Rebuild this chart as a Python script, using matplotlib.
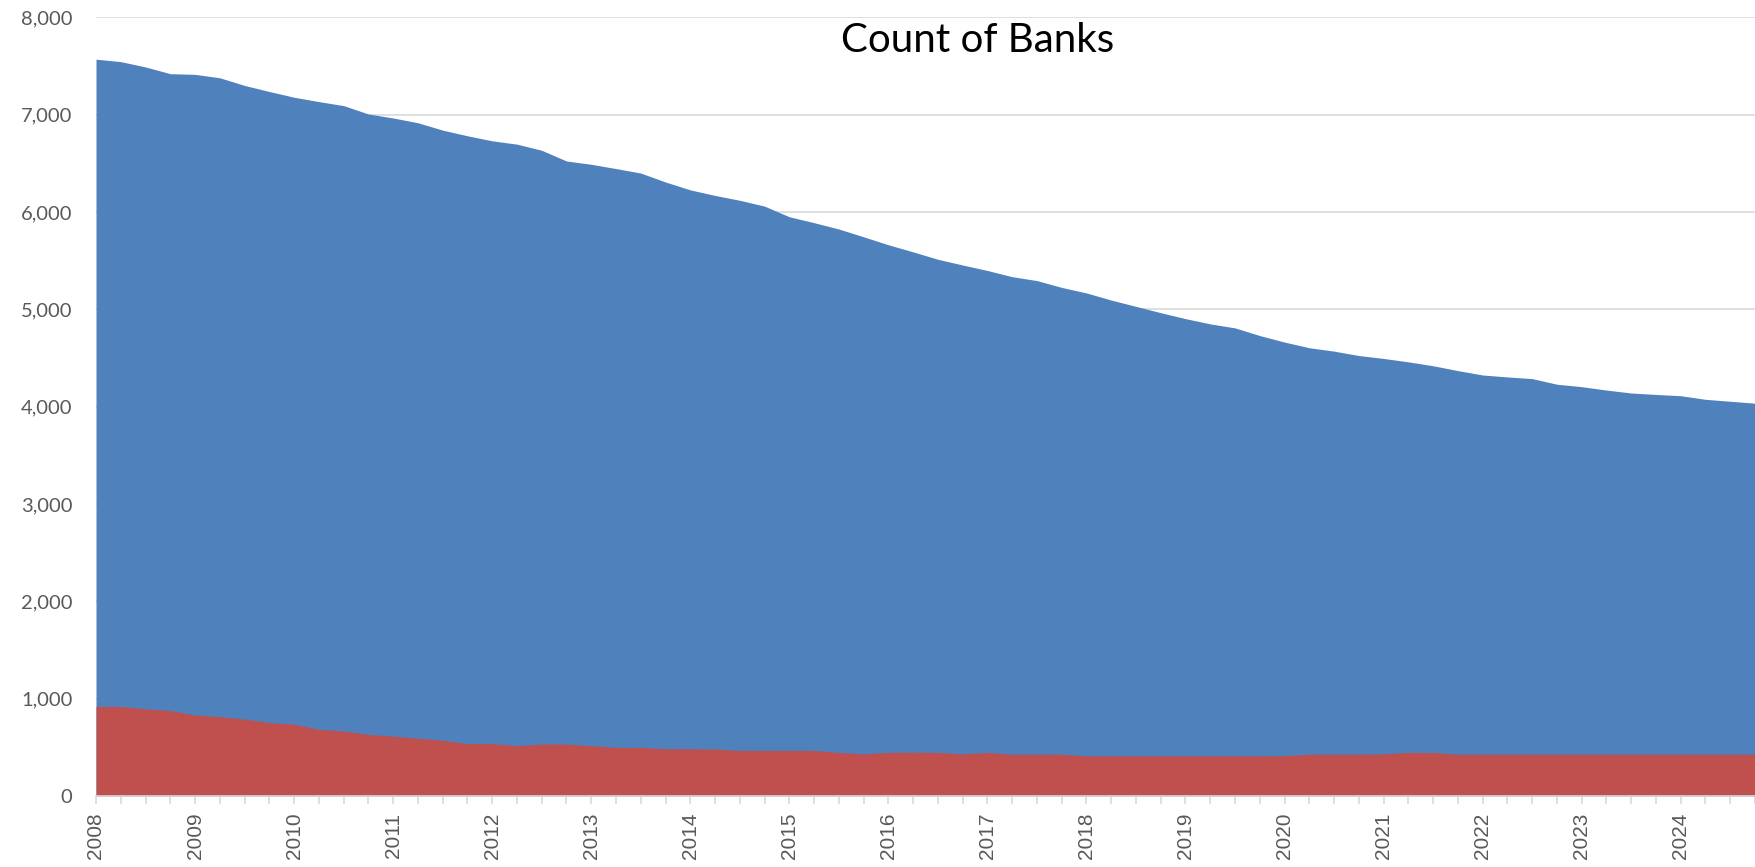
import numpy as np
import matplotlib.pyplot as plt

# Quarterly counts, 2008 Q1 .. 2024 Q4
years = list(range(2008, 2025))
total_banks = [
    7570, 7545, 7490, 7421, 7414, 7379, 7300, 7238,
    7179, 7134, 7093, 7007, 6966, 6917, 6841, 6783,
    6731, 6697, 6634, 6524, 6490, 6446, 6400, 6308,
    6227, 6170, 6120, 6060, 5951, 5890, 5825, 5745,
    5663, 5590, 5514, 5455, 5399, 5335, 5295, 5225,
    5168, 5095, 5030, 4965, 4904, 4850, 4809, 4730,
    4663, 4605, 4570, 4525, 4495, 4460, 4420, 4370,
    4325, 4305, 4288, 4230, 4205, 4170, 4140, 4125,
    4112, 4075, 4055, 4035,
]
subset_banks = [
    919, 919, 895, 877, 832, 814, 789, 754,
    737, 684, 667, 632, 614, 593, 572, 537,
    537, 516, 533, 533, 516, 498, 498, 484,
    484, 481, 467, 467, 467, 467, 446, 432,
    446, 449, 446, 432, 446, 428, 428, 428,
    411, 411, 411, 411, 411, 411, 411, 411,
    414, 428, 428, 428, 432, 446, 446, 428,
    428, 428, 428, 428, 428, 428, 428, 428,
    428, 428, 428, 428,
]

BLUE = "#4F81BD"
RED = "#C0504D"
GREY = "#595959"

q = np.arange(len(total_banks))

fig = plt.figure(figsize=(17.55, 8.67), dpi=100)
ax = fig.add_axes([0.0547, 0.082, 0.9453, 0.898])

ax.fill_between(q, 0, total_banks, color=BLUE, linewidth=0, zorder=2)
ax.fill_between(q, 0, subset_banks, color=RED, linewidth=0, zorder=3)

ax.set_xlim(0, 66.5)
ax.set_ylim(0, 8000)

ax.set_yticks(np.arange(0, 8001, 1000))
ax.set_yticklabels([f"{v:,}" for v in range(0, 8001, 1000)],
                   fontsize=14.5, color=GREY, family="Lato")
ax.yaxis.grid(True, color="#D9D9D9", linewidth=1.2, zorder=0)
ax.set_axisbelow(True)
ax.tick_params(axis="y", length=0, pad=17)

ax.set_xticks(q, minor=True)
ax.set_xticks(np.arange(0, len(q), 4))
ax.set_xticklabels([str(y) for y in years], rotation=90,
                   fontsize=15, color=GREY, family="Liberation Sans")
ax.tick_params(axis="x", which="both", length=6, color="#D9D9D9", width=1.2, pad=6)

for side in ["left", "right", "top"]:
    ax.spines[side].set_visible(False)
ax.spines["bottom"].set_color("#D9D9D9")
ax.spines["bottom"].set_linewidth(1.2)
ax.spines["bottom"].set_zorder(4)

fig.text(0.557, 0.953, "Count of Banks", ha="center", va="center",
         fontsize=29, family="Lato", color="black")

fig.savefig("out.png", dpi=100)
